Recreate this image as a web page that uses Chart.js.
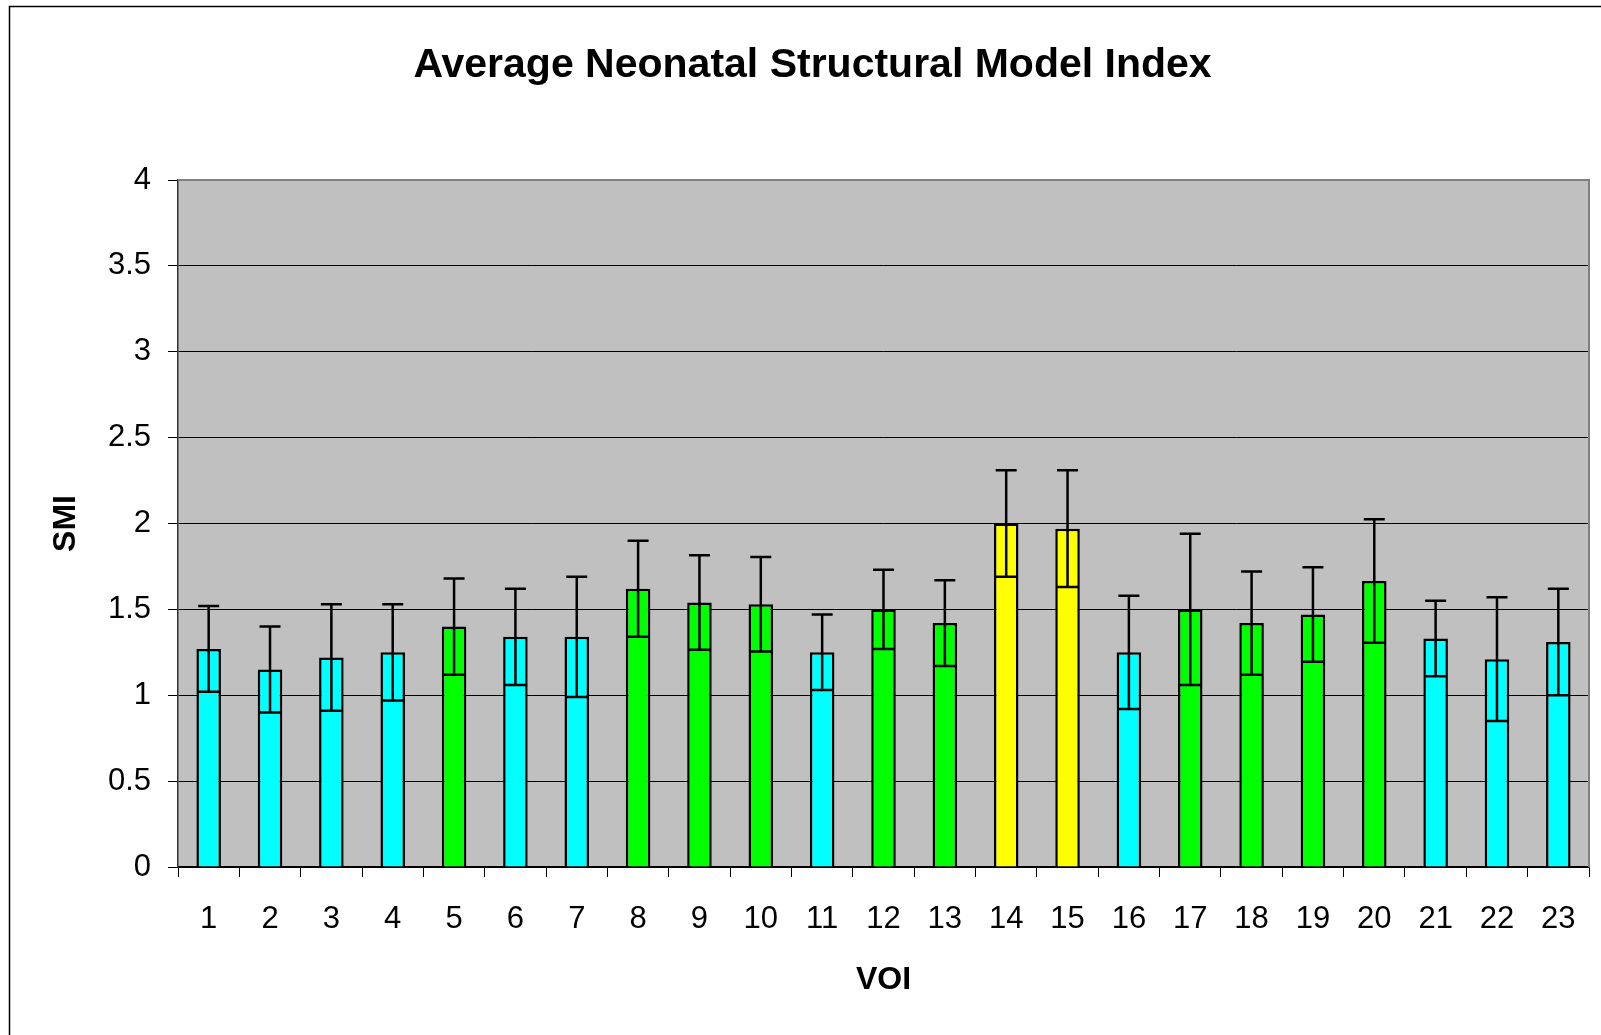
<!DOCTYPE html>
<html>
<head>
<meta charset="utf-8">
<title>Average Neonatal Structural Model Index</title>
<script src="https://cdn.jsdelivr.net/npm/chart.js@4.4.1/dist/chart.umd.min.js"></script>
<style>
  html, body { margin: 0; padding: 0; background: #fff; }
  canvas { display: block; }
</style>
</head>
<body>
<canvas id="smiChart" width="1601" height="1035"></canvas>
<script>
// data
const voiLabels = ["1","2","3","4","5","6","7","8","9","10","11","12","13","14","15","16","17","18","19","20","21","22","23"];
const smiMean = [1.27, 1.15, 1.22, 1.25, 1.40, 1.34, 1.34, 1.62, 1.54, 1.53, 1.25, 1.50, 1.42, 2.00, 1.97, 1.25, 1.50, 1.42, 1.47, 1.665, 1.33, 1.21, 1.31];
const smiSd = [0.25, 0.25, 0.31, 0.28, 0.28, 0.28, 0.35, 0.28, 0.275, 0.275, 0.22, 0.23, 0.25, 0.31, 0.34, 0.33, 0.44, 0.30, 0.275, 0.36, 0.22, 0.36, 0.31];
// 0 = cyan group, 1 = green group, 2 = yellow group
const voiGroup = [0, 0, 0, 0, 1, 0, 0, 1, 1, 1, 0, 1, 1, 2, 2, 0, 1, 1, 1, 1, 0, 0, 0];
const yTicks = [0, 0.5, 1, 1.5, 2, 2.5, 3, 3.5, 4];

const groupColors = ["#00FFFF", "#00FF00", "#FFFF00"];
const FONT = "'Liberation Sans', Arial, sans-serif";

// grey plot background + outer frame
const backgroundPlugin = {
  id: "plotBackground",
  beforeDraw(chart) {
    const { ctx, chartArea } = chart;
    ctx.save();
    ctx.fillStyle = "#fff";
    ctx.fillRect(0, 0, chart.width, chart.height);
    ctx.strokeStyle = "#000";
    ctx.lineWidth = 1.5;
    ctx.beginPath();
    ctx.moveTo(9.5, chart.height + 5);
    ctx.lineTo(9.5, 6.5);
    ctx.lineTo(chart.width + 5, 6.5);
    ctx.stroke();
    ctx.fillStyle = "#C0C0C0";
    ctx.fillRect(chartArea.left, chartArea.top, chartArea.right - chartArea.left, chartArea.bottom - chartArea.top);
    ctx.restore();
  },
  afterDatasetsDraw(chart) {
    const { ctx, chartArea } = chart;
    ctx.save();
    ctx.strokeStyle = "#808080";
    ctx.lineWidth = 2;
    ctx.beginPath();
    ctx.moveTo(chartArea.left, chartArea.top);
    ctx.lineTo(chartArea.right, chartArea.top);
    ctx.lineTo(chartArea.right, chartArea.bottom);
    ctx.stroke();
    ctx.restore();
  }
};

// +/- sd error bars
const errorBarPlugin = {
  id: "errorBars",
  afterDatasetsDraw(chart) {
    const { ctx } = chart;
    const yScale = chart.scales.y;
    const meta = chart.getDatasetMeta(0);
    ctx.save();
    ctx.strokeStyle = "#000";
    ctx.lineWidth = 2.5;
    meta.data.forEach((bar, i) => {
      const hi = yScale.getPixelForValue(smiMean[i] + smiSd[i]);
      const lo = yScale.getPixelForValue(smiMean[i] - smiSd[i]);
      const cap = 10.5;
      ctx.beginPath();
      ctx.moveTo(bar.x, hi);
      ctx.lineTo(bar.x, lo);
      ctx.moveTo(bar.x - cap, hi);
      ctx.lineTo(bar.x + cap, hi);
      ctx.moveTo(bar.x - cap, lo);
      ctx.lineTo(bar.x + cap, lo);
      ctx.stroke();
    });
    ctx.restore();
  }
};

new Chart(document.getElementById("smiChart").getContext("2d"), {
  type: "bar",
  data: {
    labels: voiLabels,
    datasets: [{
      label: "SMI",
      data: smiMean,
      backgroundColor: voiGroup.map(g => groupColors[g]),
      borderColor: "#000",
      borderWidth: 2.5,
      barPercentage: 0.4,
      categoryPercentage: 1
    }]
  },
  options: {
    responsive: false,
    animation: false,
    // left padding shifts the centred title to the right, like the original
    layout: { padding: { left: 24, right: 0, top: 0, bottom: 0 } },
    plugins: {
      legend: { display: false },
      tooltip: { enabled: false },
      title: {
        display: true,
        text: "Average Neonatal Structural Model Index",
        color: "#000",
        font: { family: FONT, size: 41, weight: "bold", lineHeight: 1.2 },
        padding: { top: 41, bottom: 89.8 }
      }
    },
    scales: {
      x: {
        afterFit(scale) { scale.height = 168; },
        grid: { display: true, drawOnChartArea: false, offset: true, tickLength: 10, color: "#000", lineWidth: 1 },
        border: { display: true, color: "#000", width: 1.5 },
        ticks: { color: "#000", padding: 24, maxRotation: 0, autoSkip: false, font: { family: FONT, size: 31 } },
        title: { display: true, text: "VOI", color: "#000", padding: { top: 0, bottom: 36 }, font: { family: FONT, size: 32, weight: "bold", lineHeight: 1.2 } }
      },
      y: {
        min: 0,
        max: 4,
        afterFit(scale) { scale.width = 154; },
        afterBuildTicks(scale) { scale.ticks = yTicks.map(v => ({ value: v })); },
        grid: { color: "#000", lineWidth: 1, tickLength: 10 },
        border: { display: true, color: "#333", width: 1.5 },
        ticks: { color: "#000", padding: 17, font: { family: FONT, size: 31 }, callback: v => String(v) },
        title: { display: true, text: "SMI", color: "#000", padding: { top: 23, bottom: 0 }, font: { family: FONT, size: 32, weight: "bold", lineHeight: 1.2 } }
      },
      // empty spacer on the right so the plot ends where the original does
      yRight: {
        position: "right",
        afterFit(scale) { scale.width = 12; },
        grid: { display: false, drawOnChartArea: false },
        border: { display: false },
        ticks: { display: false }
      }
    }
  },
  plugins: [backgroundPlugin, errorBarPlugin]
});
</script>
</body>
</html>
